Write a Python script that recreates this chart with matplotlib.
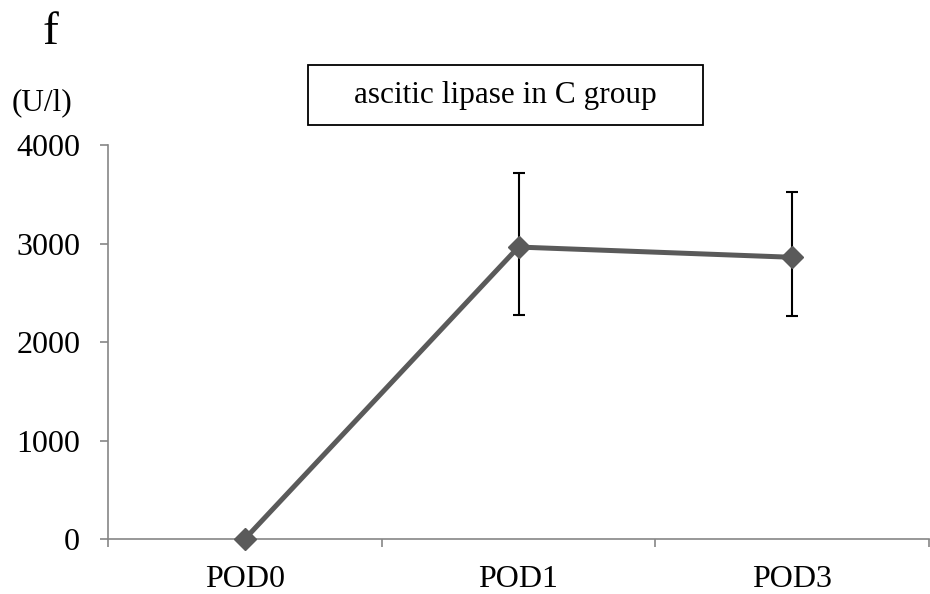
import matplotlib.pyplot as plt
import numpy as np

plt.rcParams['font.family'] = ['Liberation Serif', 'DejaVu Serif']

# data
days = ['POD0', 'POD1', 'POD3']
lipase = [0, 2964, 2860]
err_low = [0, 685, 593]
err_high = [0, 755, 660]

fig = plt.figure(figsize=(9.3, 5.94), dpi=100)
ax = fig.add_axes([108 / 930, 1 - 539 / 594, (929 - 108) / 930, (539 - 145) / 594])

x = np.arange(len(days))
ax.errorbar(x[1:], lipase[1:], yerr=[err_low[1:], err_high[1:]], fmt='none',
            ecolor='black', elinewidth=1.5, capsize=4.5, capthick=1.5, zorder=2)
ax.plot(x, lipase, color='#5a5a5a', lw=3.6, marker='D', markersize=11,
        solid_capstyle='butt', zorder=3, clip_on=False)

ax.set_xlim(-0.5, 2.5)
ax.set_ylim(0, 4000)
ax.set_yticks([0, 1000, 2000, 3000, 4000])
ax.set_xticks(x)
ax.set_xticklabels(days)
ax.set_xticks([-0.5, 0.5, 1.5, 2.5], minor=True)

for s in ['top', 'right']:
    ax.spines[s].set_visible(False)
for s in ['left', 'bottom']:
    ax.spines[s].set_color('#868686')
    ax.spines[s].set_linewidth(1.2)

ax.tick_params(axis='y', direction='out', length=6, width=1.2, color='#868686',
               pad=14, labelsize=23)
ax.tick_params(axis='x', which='major', length=0, pad=19, labelsize=23)
ax.tick_params(axis='x', which='minor', direction='out', length=6, width=1.2,
               color='#868686')

fig.text(50 / 930, 1 - 33 / 594, 'f', fontsize=34, ha='center', va='center')
fig.text(42 / 930, 1 - 103 / 594, '(U/l)', fontsize=22.5, ha='center', va='center')

fig.text(505 / 930, 1 - 95 / 594, 'ascitic lipase in C group', fontsize=22.5,
         ha='center', va='center')
fig.patches.append(plt.Rectangle((308 / 930, 1 - 125 / 594), (703 - 308) / 930,
                                 60 / 594, transform=fig.transFigure,
                                 fill=False, edgecolor='black', lw=1.3))

fig.savefig('out.png', dpi=100)
